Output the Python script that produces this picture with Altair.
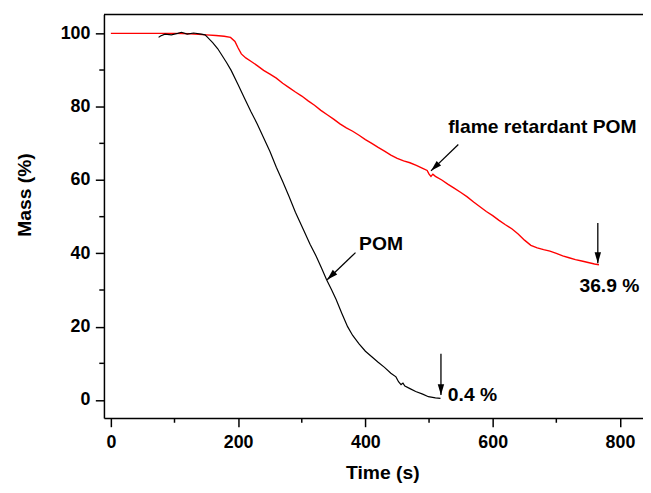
import altair as alt
import pandas as pd

# ---- data ----
fr_time = [0, 25, 50, 75, 100, 125, 150, 165, 178, 188, 195, 200, 205, 212, 220, 230, 240, 250, 260, 270,
           280, 290, 300, 310, 320, 330, 340, 350, 360, 370, 380, 390, 400, 410, 420, 430, 440, 450, 460,
           470, 480, 490, 497, 500, 503, 506, 510, 520, 530, 540, 550, 560, 570, 580, 590, 600, 610, 620,
           630, 640, 650, 660, 670, 680, 690, 700, 710, 720, 730, 740, 750, 760, 767]
fr_mass = [100, 100, 100, 100, 100, 99.9, 99.6, 99.4, 99.2, 98.9, 97.8, 96.0, 94.4, 93.3, 92.4, 91.2, 89.9,
           88.9, 87.8, 86.4, 85.2, 84.0, 82.9, 81.6, 80.4, 79.0, 77.8, 76.6, 75.3, 74.2, 73.3, 72.2, 71.0,
           70.0, 68.9, 67.9, 66.8, 65.9, 65.2, 64.7, 64.0, 63.2, 62.6, 61.6, 61.0, 61.6, 61.0, 60.0, 58.8,
           57.7, 56.6, 55.4, 54.0, 52.7, 51.4, 50.3, 49.0, 47.8, 46.7, 45.3, 43.6, 42.2, 41.5, 41.0, 40.6,
           40.0, 39.3, 38.8, 38.3, 37.9, 37.5, 37.1, 36.9]

pom_time = [75, 78, 85, 95, 105, 111, 120, 130, 142, 148, 152, 160, 168, 175, 182, 189, 200, 210, 220, 230,
            240, 250, 260, 270, 280, 290, 303, 313, 323, 331, 339, 347, 354, 363, 372, 380, 390, 400, 410,
            420, 430, 440, 448, 452, 456, 459, 462, 470, 479, 490, 499, 510, 518]
pom_mass = [98.9, 99.3, 99.8, 99.6, 100.0, 100.3, 99.8, 100.1, 99.8, 99.6, 98.9, 97.5, 95.8, 93.9, 92.0,
            89.9, 86.0, 82.3, 78.7, 75.3, 71.5, 67.8, 63.5, 59.6, 55.5, 51.2, 46.3, 42.5, 39.1, 36.0, 32.8,
            30.0, 27.4, 23.6, 20.0, 17.6, 15.3, 13.3, 11.8, 10.3, 8.9, 7.3, 6.3, 5.0, 4.2, 4.6, 3.8, 3.1,
            2.3, 1.6, 0.9, 0.6, 0.45]

x_ticks = [0, 200, 400, 600, 800]
x_minor = [100, 300, 500, 700]
y_ticks = [0, 20, 40, 60, 80, 100]
y_minor = [10, 30, 50, 70, 90]

label_text = ["flame retardant POM", "POM", "0.4 %", "36.9 %"]
label_x = [530, 390, 529.5, 736.3]
label_y = [72.9, 40.9, -0.27, 29.4]

arrow_x = [546.0, 384.4, 518.7, 765.2]
arrow_y = [69.7, 40.2, 12.6, 48.3]
arrow_x2 = [503.1, 339.9, 518.7, 765.2]
arrow_y2 = [62.5, 32.8, 1.35, 37.3]
arrow_angle = [46, 46, 0, 0]

# ---- build ----
W, H = 545, 408
FONT = "Liberation Sans"
xs = alt.Scale(domain=[-10.88, 836.2], nice=False, zero=False)
ys = alt.Scale(domain=[-4.94, 105.13], nice=False, zero=False)

xax = alt.Axis(values=x_ticks, tickSize=8.7, labelPadding=7, title="Time (s)",
               titleX=281.5, titleY=61, titleAlign="center", titleBaseline="alphabetic",
               labelFlush=False, labelOverlap=False, format="d")
yax = alt.Axis(values=y_ticks, tickSize=8.7, labelPadding=5.5, title="Mass (%)",
               titleX=-80, titleY=182, titleAlign="center", titleBaseline="middle", titleAngle=270,
               labelFlush=False, labelOverlap=False, format="d")


def X(f):
    return alt.X(f, scale=xs, axis=xax)


def Y(f):
    return alt.Y(f, scale=ys, axis=yax)


fr = pd.DataFrame({"t": fr_time, "m": fr_mass})
pom = pd.DataFrame({"t": pom_time, "m": pom_mass})
labels = pd.DataFrame({"txt": label_text, "x": label_x, "y": label_y})
arrows = pd.DataFrame({"x": arrow_x, "y": arrow_y, "x2": arrow_x2, "y2": arrow_y2, "a": arrow_angle})
xm = pd.DataFrame({"v": x_minor})
ym = pd.DataFrame({"v": y_minor})
one = pd.DataFrame({"k": [0]})

fr_line = alt.Chart(fr).mark_line(color="#ff0000", strokeWidth=1.4).encode(x=X("t:Q"), y=Y("m:Q"))
pom_line = alt.Chart(pom).mark_line(color="#000000", strokeWidth=1.2).encode(x=X("t:Q"), y=Y("m:Q"))

shafts = alt.Chart(arrows).mark_rule(color="black", strokeWidth=1.3).encode(
    x=X("x:Q"), y=Y("y:Q"), x2="x2:Q", y2="y2:Q")
heads = alt.Chart(arrows).mark_point(
    shape="M0,0L-0.65,-2.2L0.65,-2.2Z", filled=True, color="black", size=100, opacity=1).encode(
    x=X("x2:Q"), y=Y("y2:Q"), angle=alt.Angle("a:Q", scale=None))

texts = alt.Chart(labels).mark_text(
    align="left", baseline="alphabetic", font=FONT, fontSize=19.5, fontWeight="bold", color="black").encode(
    x=X("x:Q"), y=Y("y:Q"), text="txt:N")

xminor = alt.Chart(xm).mark_rule(color="black", strokeWidth=1.5).encode(
    x=X("v:Q"), y=alt.value(H), y2=alt.value(H + 4.7))
yminor = alt.Chart(ym).mark_rule(color="black", strokeWidth=1.5).encode(
    y=Y("v:Q"), x=alt.value(-4.7), x2=alt.value(0))
top = alt.Chart(one).mark_rule(color="black", strokeWidth=1.5).encode(
    x=alt.value(0), x2=alt.value(W), y=alt.value(0))

chart = alt.layer(fr_line, pom_line, shafts, heads, texts, xminor, yminor, top).properties(
    width=W, height=H,
    autosize=alt.AutoSizeParams(type="none"),
    padding={"left": 97, "top": 4, "right": 0, "bottom": 64},
).configure_view(stroke=None).configure_axis(
    grid=False, domainColor="black", domainWidth=1.5, tickColor="black", tickWidth=1.5,
    labelFont=FONT, labelFontSize=18, labelFontWeight="bold", labelColor="black",
    titleFont=FONT, titleFontSize=19.5, titleFontWeight="bold", titleColor="black",
)

chart.save("out.html", embed_options={"renderer": "svg", "actions": False})
